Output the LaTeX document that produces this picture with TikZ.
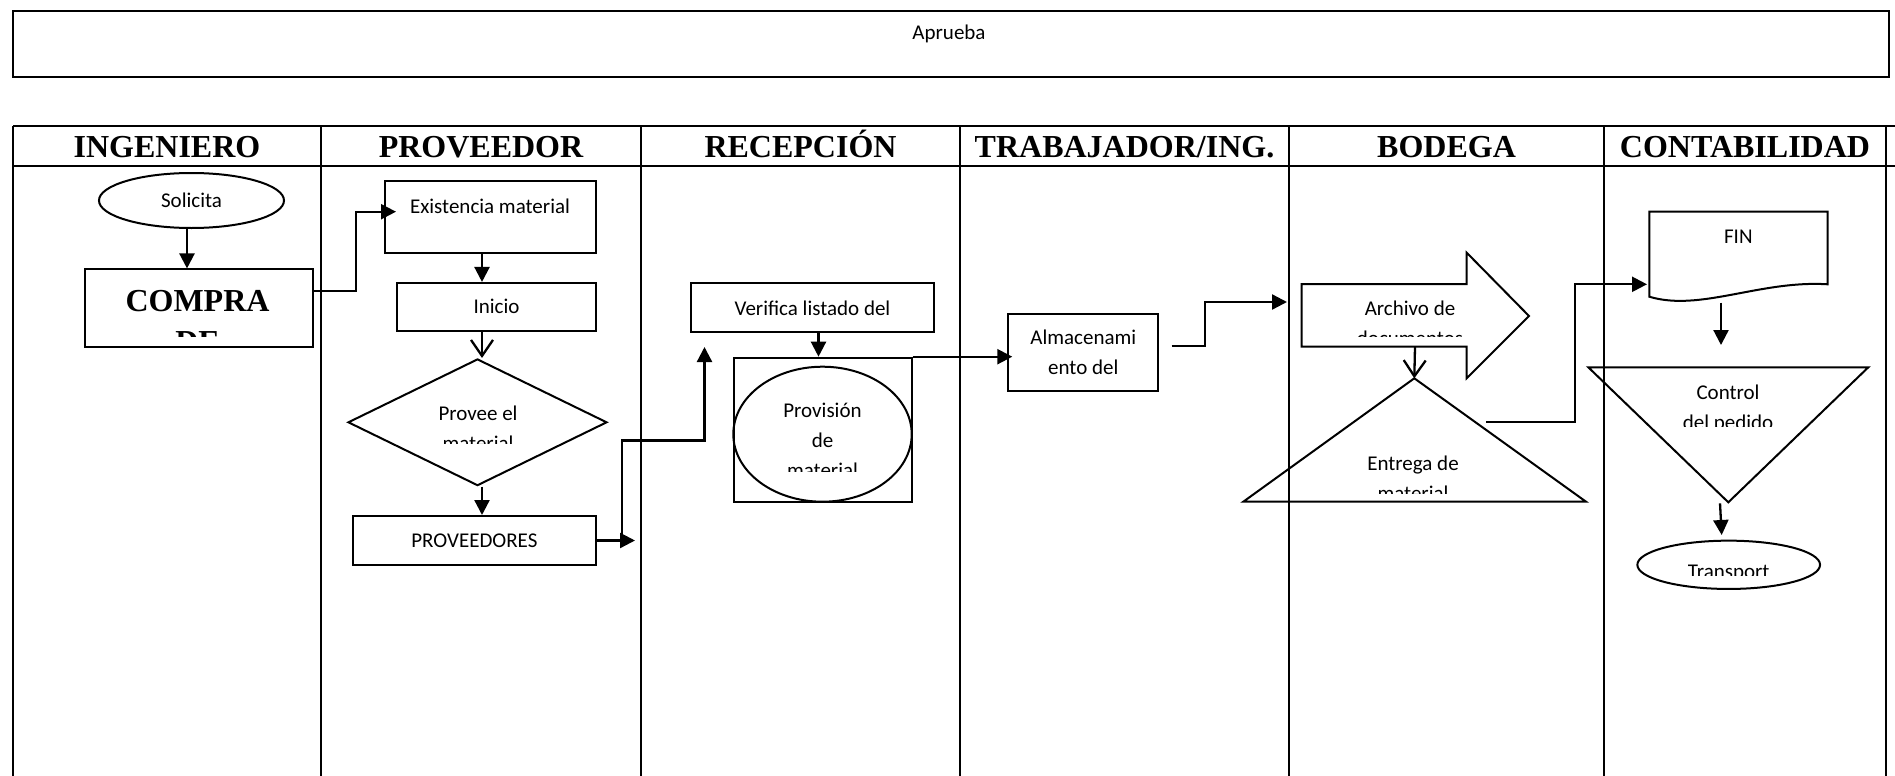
\documentclass[tikz,border=0pt]{standalone}
\usepackage{fontspec}
\setmainfont{Carlito}
\newfontfamily\hdrserif{Liberation Serif}
\usetikzlibrary{arrows.meta,shapes.geometric,positioning,calc}
\tikzset{
  % lane lines and lane titles
  lane/.style={line width=2.4pt},
  lanehdr/.style={font=\hdrserif\bfseries\fontsize{32}{41}\selectfont, inner sep=0pt, align=center},
  % shapes
  pbox/.style={rectangle, draw, line width=2pt, inner sep=0pt},
  pell/.style={ellipse, draw, line width=2pt, inner sep=0pt},
  pdec/.style={diamond, draw, line width=2pt, inner sep=0pt},
  shp/.style={draw, line width=2pt, line join=miter},
  % text
  ptxt/.style={font=\fontsize{21}{30}\selectfont, align=center, inner sep=0pt},
  % arrows
  arr/.style={-{Triangle[length=15pt,width=15pt]}, line width=2.3pt},
  varr/.style={-{Straight Barb[length=16pt,width=22pt]}, line width=2.3pt},
}
\begin{document}
\begin{tikzpicture}[x=1pt,y=-1pt]
  \useasboundingbox (0,0) rectangle (1895,776);

  % Top box
  \node[pbox, minimum width=1876pt, minimum height=66pt, anchor=north west] (aprueba) at (12,10) {};
  \node[ptxt] (aprueba-t) at (949,33.5) {Aprueba};

  % Lanes
  \draw[lane] (13,126) -- (1895,126);
  \draw[lane] (13,166) -- (1895,166);
  \foreach \x in {13,321,641,960,1289,1604,1886}
    \draw[lane] (\x,126) -- (\x,776);
  \foreach \a/\b/\name [count=\i] in {13/321/INGENIERO, 321/641/PROVEEDOR,
      641/960/RECEPCIÓN, 960/1289/{TRABAJADOR/ING.}, 1289/1604/BODEGA,
      1604/1886/CONTABILIDAD}
    \node[lanehdr, anchor=base] (hdr\i) at ({(\a+\b)/2},157) {\name};

  % INGENIERO
  \node[pell, ptxt, minimum width=185pt, minimum height=55pt] (solicita) at (191.5,200.5) {Solicita};
  \node[pbox, minimum width=228pt, minimum height=77.5pt] (compra) at (199,308.2) {};
  \begin{scope}
    \clip (85,270) rectangle (313,336.7);
    \node[lanehdr] (compra-t) at (197.5,321.6) {COMPRA\\DE};
  \end{scope}

  % PROVEEDOR
  \node[pbox, minimum width=211pt, minimum height=72pt] (exist) at (490.5,216.7) {};
  \node[ptxt] (exist-t) at (490,206) {Existencia material};
  \node[pbox, ptxt, minimum width=199pt, minimum height=47.7pt] (inicio) at (496.5,306.8) {Inicio};
  \node[pdec, minimum width=259pt, minimum height=126.7pt] (provee) at (477.5,422.3) {};
  \begin{scope}
    \clip (360,395) rectangle (600,443.5);
    \node[ptxt] (provee-t) at (478,428) {Provee el\\material};
  \end{scope}
  \node[pbox, ptxt, minimum width=243.3pt, minimum height=49pt] (proveedores) at (474.4,540.5) {PROVEEDORES};

  % RECEPCION
  \node[pbox, ptxt, minimum width=243.6pt, minimum height=49pt] (verifica) at (812.5,307.8) {Verifica listado del};
  \node[pbox, minimum width=177.4pt, minimum height=144.6pt] (provbox) at (823,430) {};
  \node[pell, minimum width=178.4pt, minimum height=135pt] (provell) at (822.5,434.2) {};
  \begin{scope}
    \clip (740,380) rectangle (905,471);
    \node[ptxt] (provell-t) at (822.5,440) {Provisión\\de\\material};
  \end{scope}

  % TRABAJADOR/ING.
  \node[pbox, ptxt, minimum width=150pt, minimum height=76.7pt] (almac) at (1083.3,352.3) {Almacenami\\ento del};

  % BODEGA
  \draw[shp] (1301.7,284) -- (1466.7,284) -- (1466.7,252.7) -- (1529,316)
    -- (1466.7,378.3) -- (1466.7,346.7) -- (1301.7,346.7) -- cycle;
  \coordinate (archivo-s) at (1415,346.7);
  \begin{scope}
    \clip (1305,290) rectangle (1520,336);
    \node[ptxt] (archivo-t) at (1410,323) {Archivo de\\documentos};
  \end{scope}
  \draw[shp] (1414.3,378.3) -- (1586,501.7) -- (1243.3,501.7) -- cycle;
  \coordinate (entrega-top) at (1414.3,378.3);
  \begin{scope}
    \clip (1300,440) rectangle (1530,493);
    \node[ptxt] (entrega-t) at (1413,478) {Entrega de\\material};
  \end{scope}

  % CONTABILIDAD
  \draw[shp] (1649.3,296.7) -- (1649.3,211.7) -- (1827.7,211.7) -- (1827.7,284.3)
    .. controls (1760,280) and (1700,312) .. (1649.3,296.7) -- cycle;
  \node[ptxt] (fin-t) at (1738.3,236.7) {FIN};
  \draw[shp] (1588.3,367.3) -- (1868.3,367.3) -- (1728.3,502.3) -- cycle;
  \begin{scope}
    \clip (1620,375) rectangle (1840,426.5);
    \node[ptxt] (control-t) at (1728,409) {Control\\del pedido};
  \end{scope}
  \node[pell, minimum width=182.7pt, minimum height=48.3pt] (transp) at (1728.7,564.8) {};
  \begin{scope}
    \clip (1650,545) rectangle (1810,575);
    \node[ptxt, anchor=base] (transp-t) at (1728.7,578.5) {Transport};
  \end{scope}

  % Connectors
  \draw[arr] ([xshift=-4.5pt]solicita.south) -- ([xshift=-4.5pt]solicita.south |- compra.north);
  \draw[arr, shorten >=-12pt] ([yshift=17pt]compra.east) -- ++(42,0) |- ([yshift=5pt]exist.west);
  \draw[arr] ([xshift=-8.5pt]exist.south) -- ([xshift=-8.5pt]exist.south |- inicio.north);
  \draw[varr] ([xshift=-14.5pt]inicio.south) -- ([xshift=-14.5pt]inicio.south |- provee.north);
  \draw[arr] ([xshift=4.5pt]provee.south) -- ([xshift=4.5pt]provee.south |- proveedores.north);

  \coordinate (pe) at (635,540.5);
  \coordinate (pv) at (621.7,540.5);
  \coordinate (vt) at (704.5,347);
  \draw[arr] (proveedores.east) -- (pe);
  \draw[arr] (pv) -- ++(0,-100) -| (vt);
  \draw[arr] ([xshift=6pt]verifica.south) -- ([xshift=6pt]verifica.south |- provbox.north);
  \draw[arr, shorten >=-5pt] (provbox.north east) -- (provbox.north east -| almac.west);

  \coordinate (al1) at (1171.7,346);
  \coordinate (al2) at (1287,302);
  \draw[arr] (al1) -- ++(33,0) |- (al2);
  \draw[varr] (archivo-s) -- (entrega-top);

  \coordinate (en1) at (1486,422.3);
  \coordinate (fin-w) at (1647,284.3);
  \draw[arr] (en1) -- ++(89,0) |- (fin-w);
  \coordinate (fin-s) at (1721,302.7);
  \coordinate (ctl-n) at (1721,345);
  \draw[arr] (fin-s) -- (ctl-n);
  \coordinate (ctl-s) at (1720,503.3);
  \coordinate (tr-n) at (1721.7,535);
  \draw[arr] (ctl-s) -- (tr-n);
\end{tikzpicture}
\end{document}
